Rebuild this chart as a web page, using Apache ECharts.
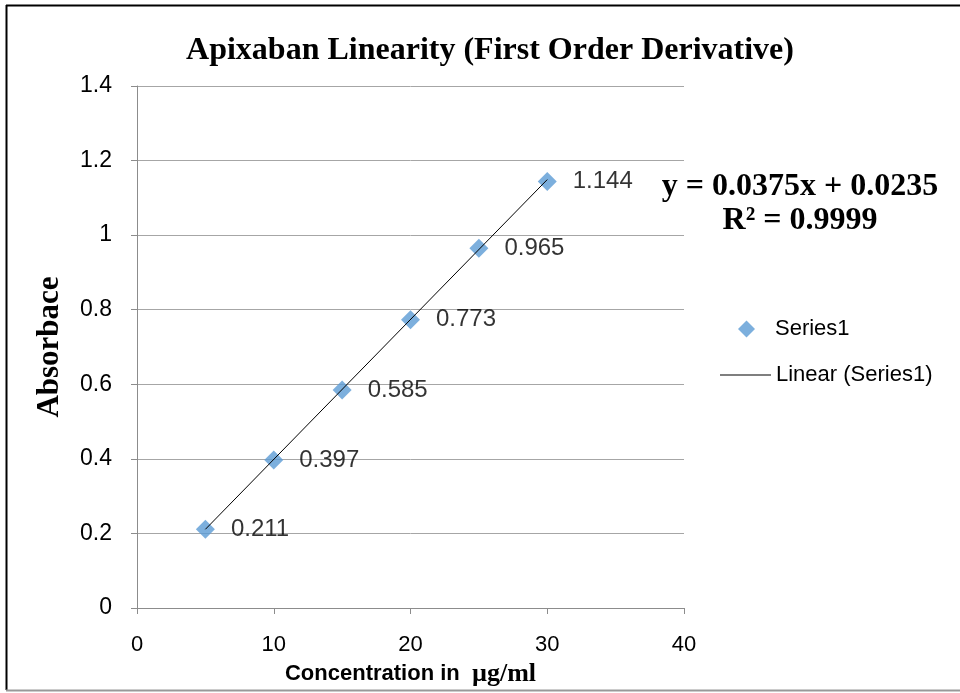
<!DOCTYPE html>
<html>
<head>
<meta charset="utf-8">
<script src="https://cdn.jsdelivr.net/npm/echarts@6/dist/echarts.min.js"></script>
<style>
  html, body { margin: 0; padding: 0; background: #fff; }
  #chart { width: 960px; height: 693px; }
</style>
</head>
<body>
<div id="chart"></div>
<script>
// concentration (µg/ml) vs absorbance
const conc = [5, 10, 15, 20, 25, 30]
const absorb = [0.211, 0.397, 0.585, 0.773, 0.965, 1.144]
// trendline end points
const trendX = [5, 30]
const trendY = [0.211, 1.149]
const eqText = 'y = 0.0375x + 0.0235'
const r2Text = 'R² = 0.9999'

const serif = "'Liberation Serif', 'Times New Roman', serif"
const sans = "'Liberation Sans', Arial, sans-serif"

const chart = echarts.init(document.getElementById('chart'), null, { renderer: 'canvas' })

chart.setOption({
  backgroundColor: '#fff',
  animation: false,
  grid: { left: 137, right: 276, top: 86, bottom: 85 },
  xAxis: {
    type: 'value', min: 0, max: 40, interval: 10,
    name: '{a|Concentration in  }{b|µg/ml}',
    nameLocation: 'middle', nameGap: 53,
    nameTextStyle: {
      rich: {
        a: { fontFamily: sans, fontWeight: 'bold', fontSize: 22, color: '#000' },
        b: { fontFamily: serif, fontWeight: 'bold', fontSize: 26, color: '#000' }
      }
    },
    axisLine: { lineStyle: { color: '#8c8c8c' } },
    axisTick: { show: true, length: 6, lineStyle: { color: '#8c8c8c' } },
    axisLabel: { color: '#000', fontSize: 22, fontFamily: sans, margin: 26 },
    splitLine: { show: false }
  },
  yAxis: {
    type: 'value', min: 0, max: 1.4, interval: 0.2,
    name: 'Absorbace',
    nameLocation: 'middle', nameGap: 72,
    nameTextStyle: { fontFamily: serif, fontWeight: 'bold', fontSize: 31, color: '#000' },
    axisLine: { show: true, lineStyle: { color: '#8c8c8c' } },
    axisTick: { show: true, length: 6, lineStyle: { color: '#8c8c8c' } },
    axisLabel: {
      color: '#000', fontSize: 23, fontFamily: sans, margin: 25,
      formatter: v => String(Math.round(v * 10) / 10)
    },
    splitLine: { lineStyle: { color: '#a6a6a6' } }
  },
  legend: [
    {
      orient: 'vertical', left: 733, top: 313,
      itemWidth: 17, itemHeight: 17,
      data: [{ name: 'Series1', icon: 'diamond' }],
      textStyle: { fontFamily: sans, fontSize: 22, color: '#000', padding: [0, 0, 0, 15] }
    },
    {
      orient: 'vertical', left: 715, top: 359,
      itemWidth: 51, itemHeight: 1,
      data: [{ name: 'Linear (Series1)', icon: 'rect', itemStyle: { color: '#000' } }],
      textStyle: { fontFamily: sans, fontSize: 22, color: '#000' }
    }
  ],
  series: [
    {
      name: 'Linear (Series1)', type: 'line',
      data: trendX.map((x, i) => [x, trendY[i]]),
      symbol: 'none', z: 3,
      lineStyle: { color: '#000', width: 1 },
      itemStyle: { color: '#000' }
    },
    {
      name: 'Series1', type: 'scatter',
      data: conc.map((x, i) => [x, absorb[i]]),
      symbol: 'diamond', symbolSize: 19, z: 2,
      itemStyle: { color: '#5B9BD5' },
      label: {
        show: true, position: 'right', distance: 16,
        fontFamily: sans, fontSize: 24, color: '#000',
        formatter: p => p.value[1].toFixed(3)
      }
    }
  ],
  graphic: [
    { type: 'text', x: 490, y: 51,
      style: { text: 'Apixaban Linearity (First Order Derivative)', font: 'bold 32px ' + serif,
        fill: '#000', textAlign: 'center', textVerticalAlign: 'middle' } },
    { type: 'text', x: 800, y: 187,
      style: { text: eqText, font: 'bold 32px ' + serif, fill: '#000',
        textAlign: 'center', textVerticalAlign: 'middle' } },
    { type: 'text', x: 800, y: 221,
      style: { text: r2Text, font: 'bold 32px ' + serif, fill: '#000',
        textAlign: 'center', textVerticalAlign: 'middle' } },
    // chart-area border
    { type: 'line', shape: { x1: 6, y1: 5.5, x2: 960, y2: 5.5 }, style: { stroke: '#000', lineWidth: 2 } },
    { type: 'line', shape: { x1: 6.5, y1: 5, x2: 6.5, y2: 690 }, style: { stroke: '#000', lineWidth: 2 } },
    { type: 'line', shape: { x1: 6, y1: 690.5, x2: 960, y2: 690.5 }, style: { stroke: '#999', lineWidth: 2 } }
  ]
})
</script>
</body>
</html>
